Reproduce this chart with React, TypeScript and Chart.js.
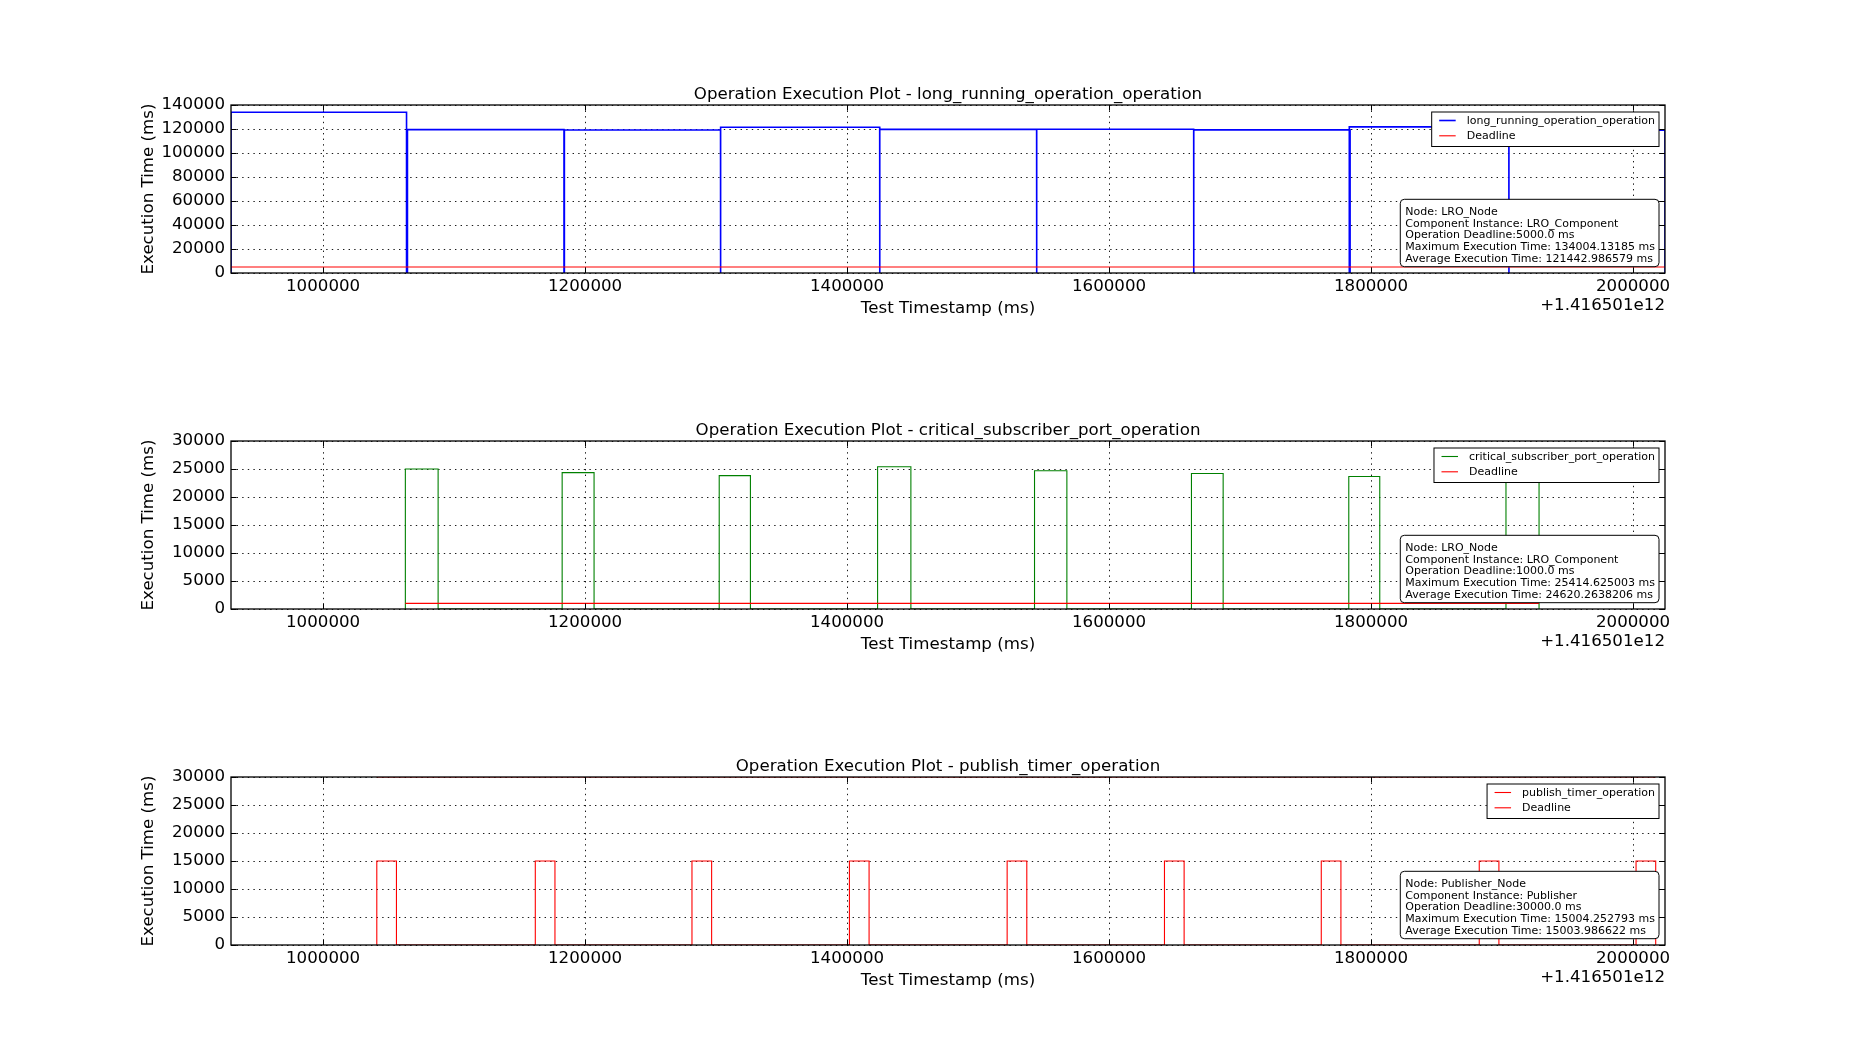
import React, { useEffect, useRef } from "react";
import { Chart, registerables } from "chart.js";

Chart.register(...registerables);

const FONT = '"DejaVu Sans", sans-serif';
const BIG = 16.67;
const SMALL = 11;

// shared x axis (values relative to the offset +1.416501e12)
const X_MIN = 929700;
const X_MAX = 2024400;
const X_TICKS = [1000000, 1200000, 1400000, 1600000, 1800000, 2000000];
const X_OFFSET_TEXT = "+1.416501e12";
const X_LABEL = "Test Timestamp (ms)";
const Y_LABEL = "Execution Time (ms)";

// plot 1: long_running_operation_operation
const lroTitle = "Operation Execution Plot - long_running_operation_operation";
const lroName = "long_running_operation_operation";
const lroStarts = [929700, 1064400, 1184200, 1303500, 1425000, 1544800, 1664700, 1783400, 1905300];
const lroExecTimes = [134004.13, 119500, 119200, 121400, 119700, 119800, 119300, 121800, 119100];
const lroDeadline = 5000;
const lroYTicks = [0, 20000, 40000, 60000, 80000, 100000, 120000, 140000];
const lroInfo = [
  "Node: LRO_Node",
  "Component Instance: LRO_Component",
  "Operation Deadline:5000.0 ms",
  "Maximum Execution Time: 134004.13185 ms",
  "Average Execution Time: 121442.986579 ms",
];

// plot 2: critical_subscriber_port_operation
const cspTitle = "Operation Execution Plot - critical_subscriber_port_operation";
const cspName = "critical_subscriber_port_operation";
const cspStarts = [1062800, 1182500, 1302400, 1423300, 1543100, 1662900, 1783000, 1903000];
const cspExecTimes = [25010, 24360, 23820, 25414.63, 24700, 24200, 23650, 25250];
const cspDeadline = 1000;
const cspYTicks = [0, 5000, 10000, 15000, 20000, 25000, 30000];
const cspInfo = [
  "Node: LRO_Node",
  "Component Instance: LRO_Component",
  "Operation Deadline:1000.0 ms",
  "Maximum Execution Time: 25414.625003 ms",
  "Average Execution Time: 24620.2638206 ms",
];

// plot 3: publish_timer_operation
const ptTitle = "Operation Execution Plot - publish_timer_operation";
const ptName = "publish_timer_operation";
const ptStarts = [1041000, 1162000, 1281600, 1401800, 1522200, 1642300, 1762000, 1882600, 2002300];
const ptExecTimes = [15004.25, 15003.9, 15004.0, 15003.8, 15004.1, 15003.9, 15004.0, 15003.9, 15004.0];
const ptDeadline = 30000;
const ptYTicks = [0, 5000, 10000, 15000, 20000, 25000, 30000];
const ptInfo = [
  "Node: Publisher_Node",
  "Component Instance: Publisher",
  "Operation Deadline:30000.0 ms",
  "Maximum Execution Time: 15004.252793 ms",
  "Average Execution Time: 15003.986622 ms",
];

type Pt = { x: number; y: number };

function execPoints(starts: number[], times: number[]): Pt[] {
  const pts: Pt[] = [];
  starts.forEach((s, i) => {
    const e = s + times[i];
    pts.push({ x: s, y: 0 }, { x: s, y: times[i] }, { x: e, y: times[i] }, { x: e, y: 0 });
  });
  return pts;
}

function deadlinePoints(starts: number[], times: number[], d: number): Pt[] {
  const last = starts.length - 1;
  return [
    { x: starts[0], y: d },
    { x: starts[last] + times[last], y: d },
  ];
}

type PlotCfg = {
  title: string;
  name: string;
  color: string;
  width: number;
  starts: number[];
  times: number[];
  deadline: number;
  yTicks: number[];
  info: string[];
};

const PLOTS: PlotCfg[] = [
  { title: lroTitle, name: lroName, color: "#0000ff", width: 1.6, starts: lroStarts, times: lroExecTimes, deadline: lroDeadline, yTicks: lroYTicks, info: lroInfo },
  { title: cspTitle, name: cspName, color: "#008000", width: 1.1, starts: cspStarts, times: cspExecTimes, deadline: cspDeadline, yTicks: cspYTicks, info: cspInfo },
  { title: ptTitle, name: ptName, color: "#ff0000", width: 1.1, starts: ptStarts, times: ptExecTimes, deadline: ptDeadline, yTicks: ptYTicks, info: ptInfo },
];

const CANVAS_W = 1850;
const CANVAS_H = 336;

function makeDecor(cfg: PlotCfg) {
  return {
    id: "mplDecor",
    beforeDatasetsDraw(chart: any) {
      const { ctx, chartArea: a, scales } = chart;
      const x = scales.x;
      const y = scales.y;
      ctx.save();
      ctx.strokeStyle = "#000";
      ctx.lineWidth = 0.9;
      ctx.setLineDash([1.4, 4.2]);
      ctx.beginPath();
      x.ticks.forEach((t: any) => {
        const px = Math.round(x.getPixelForValue(t.value)) + 0.5;
        ctx.moveTo(px, a.top);
        ctx.lineTo(px, a.bottom);
      });
      y.ticks.forEach((t: any) => {
        const py = Math.round(y.getPixelForValue(t.value)) + 0.5;
        ctx.moveTo(a.left, py);
        ctx.lineTo(a.right, py);
      });
      ctx.stroke();
      ctx.restore();
    },
    afterDatasetsDraw(chart: any) {
      const { ctx, chartArea: a, scales } = chart;
      const x = scales.x;
      const y = scales.y;
      ctx.save();
      // tick marks (inward)
      ctx.strokeStyle = "#000";
      ctx.lineWidth = 1;
      ctx.setLineDash([]);
      ctx.beginPath();
      const TL = 5.5;
      x.ticks.forEach((t: any) => {
        const px = Math.round(x.getPixelForValue(t.value)) + 0.5;
        ctx.moveTo(px, a.bottom);
        ctx.lineTo(px, a.bottom - TL);
        ctx.moveTo(px, a.top);
        ctx.lineTo(px, a.top + TL);
      });
      y.ticks.forEach((t: any) => {
        const py = Math.round(y.getPixelForValue(t.value)) + 0.5;
        ctx.moveTo(a.left, py);
        ctx.lineTo(a.left + TL, py);
        ctx.moveTo(a.right, py);
        ctx.lineTo(a.right - TL, py);
      });
      ctx.stroke();
      // spines
      ctx.lineWidth = 1.3;
      ctx.strokeRect(a.left, a.top, a.right - a.left, a.bottom - a.top);

      // legend
      ctx.font = `${SMALL}px ${FONT}`;
      const items = [
        { text: cfg.name, color: cfg.color, w: cfg.width },
        { text: "Deadline", color: "#ff0000", w: 1.1 },
      ];
      const maxW = Math.max(...items.map((it) => ctx.measureText(it.text).width));
      const boxR = a.right - 6;
      const boxT = a.top + 7;
      const textL = boxR - 4 - maxW;
      const boxL = textL - 35;
      const boxH = 34.5;
      ctx.fillStyle = "#fff";
      ctx.fillRect(boxL, boxT, boxR - boxL, boxH);
      ctx.lineWidth = 1;
      ctx.strokeStyle = "#000";
      ctx.strokeRect(boxL, boxT, boxR - boxL, boxH);
      items.forEach((it, i) => {
        const base = boxT + 12 + i * 15.3;
        ctx.strokeStyle = it.color;
        ctx.lineWidth = it.w;
        ctx.beginPath();
        ctx.moveTo(boxL + 7.5, base - 3.5);
        ctx.lineTo(boxL + 24, base - 3.5);
        ctx.stroke();
        ctx.fillStyle = "#000";
        ctx.textAlign = "left";
        ctx.textBaseline = "alphabetic";
        ctx.fillText(it.text, textL, base);
      });

      // info annotation box
      const infoW = Math.max(...cfg.info.map((s) => ctx.measureText(s).width));
      const aR = a.right - 6;
      const aB = a.bottom - 6.3;
      const aH = 67.4;
      const aT = aB - aH;
      const aL = aR - infoW - 9;
      ctx.beginPath();
      if ((ctx as any).roundRect) {
        (ctx as any).roundRect(aL, aT, aR - aL, aH, 4);
      } else {
        ctx.rect(aL, aT, aR - aL, aH);
      }
      ctx.fillStyle = "#fff";
      ctx.fill();
      ctx.strokeStyle = "#000";
      ctx.lineWidth = 1;
      ctx.stroke();
      ctx.fillStyle = "#000";
      ctx.textAlign = "left";
      ctx.textBaseline = "alphabetic";
      cfg.info.forEach((s, i) => {
        ctx.fillText(s, aL + 5, aT + 15.7 + i * 11.7);
      });
      ctx.restore();
    },
    afterDraw(chart: any) {
      const { ctx, chartArea: a } = chart;
      ctx.save();
      ctx.fillStyle = "#000";
      ctx.font = `${BIG}px ${FONT}`;
      ctx.textBaseline = "alphabetic";
      const cx = (a.left + a.right) / 2;
      ctx.textAlign = "center";
      ctx.fillText(cfg.title, cx, a.top - 6);
      ctx.fillText(X_LABEL, cx, a.bottom + 40);
      ctx.textAlign = "right";
      ctx.fillText(X_OFFSET_TEXT, a.right, a.bottom + 37);
      ctx.translate(a.left - 78, (a.top + a.bottom) / 2);
      ctx.rotate(-Math.PI / 2);
      ctx.textAlign = "center";
      ctx.fillText(Y_LABEL, 0, 0);
      ctx.restore();
    },
  };
}

function Plot({ cfg, top }: { cfg: PlotCfg; top: number }) {
  const ref = useRef<HTMLCanvasElement | null>(null);
  useEffect(() => {
    if (!ref.current) return;
    const yMax = cfg.yTicks[cfg.yTicks.length - 1];
    const chart = new Chart(ref.current, {
      type: "line",
      data: {
        datasets: [
          {
            label: "Deadline",
            data: deadlinePoints(cfg.starts, cfg.times, cfg.deadline),
            borderColor: "#ff0000",
            borderWidth: 1.1,
            pointRadius: 0,
            fill: false,
            tension: 0,
            order: 0,
          },
          {
            label: cfg.name,
            data: execPoints(cfg.starts, cfg.times),
            borderColor: cfg.color,
            borderWidth: cfg.width,
            pointRadius: 0,
            fill: false,
            tension: 0,
            order: 1,
          },
        ],
      },
      options: {
        responsive: false,
        animation: false,
        devicePixelRatio: 1,
        events: [],
        layout: { padding: { left: 0, right: 185, top: 105, bottom: 0 } },
        plugins: {
          legend: { display: false },
          tooltip: { enabled: false },
          title: { display: false },
        },
        scales: {
          x: {
            type: "linear",
            position: "bottom",
            min: X_MIN,
            max: X_MAX,
            grid: { display: false, drawTicks: false },
            border: { display: false },
            ticks: {
              autoSkip: false,
              maxRotation: 0,
              minRotation: 0,
              padding: 4,
              color: "#000",
              font: { size: BIG, family: FONT },
              callback: (v: any) => String(v),
            },
            afterBuildTicks: (s: any) => {
              s.ticks = X_TICKS.map((v) => ({ value: v }));
            },
            afterFit: (s: any) => {
              s.height = CANVAS_H - 273;
            },
          },
          y: {
            type: "linear",
            position: "left",
            min: 0,
            max: yMax,
            grid: { display: false, drawTicks: false },
            border: { display: false },
            ticks: {
              autoSkip: false,
              padding: 6,
              color: "#000",
              font: { size: BIG, family: FONT },
              callback: (v: any) => String(v),
            },
            afterBuildTicks: (s: any) => {
              s.ticks = cfg.yTicks.map((v) => ({ value: v }));
            },
            afterFit: (s: any) => {
              s.width = 231;
            },
          },
        },
      },
      plugins: [makeDecor(cfg)],
    } as any);
    return () => chart.destroy();
  }, [cfg]);
  return (
    <canvas
      ref={ref}
      width={CANVAS_W}
      height={CANVAS_H}
      style={{ position: "absolute", left: 0, top, width: CANVAS_W, height: CANVAS_H }}
    />
  );
}

export default function App() {
  return (
    <div
      style={{
        position: "absolute",
        left: 0,
        top: 0,
        width: 1850,
        height: 1050,
        background: "#fff",
        overflow: "hidden",
      }}
    >
      {PLOTS.map((p, i) => (
        <Plot key={i} cfg={p} top={i * CANVAS_H} />
      ))}
    </div>
  );
}
